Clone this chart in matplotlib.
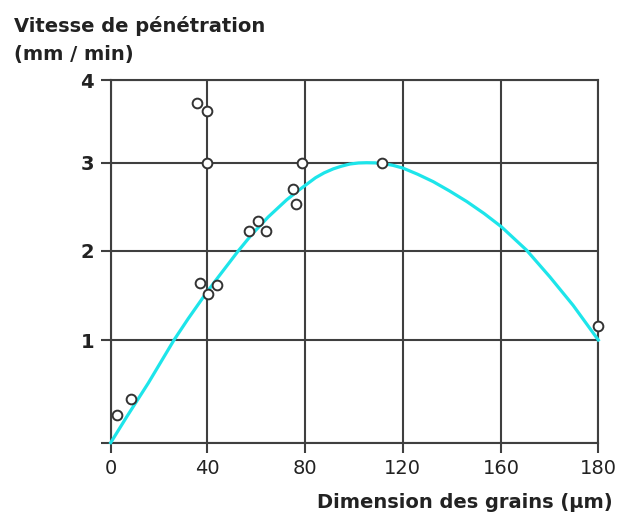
import numpy as np
import matplotlib
matplotlib.use("Agg")
import matplotlib.pyplot as plt

# measured points (grain size in µm, penetration speed in mm/min)
grain_size = [2.7, 8.4, 37.1, 40.3, 44.0, 57.4, 61.0, 64.1, 75.1, 76.7, 79.0, 40.0, 35.7, 40.0, 111.4, 180.0]
speed = [0.27, 0.43, 1.64, 1.52, 1.62, 2.23, 2.34, 2.23, 2.70, 2.53, 3.0, 3.0, 3.73, 3.63, 3.0, 1.16]

# fitted curve
curve_x = [0, 6.6, 15.6, 26.3, 32.2, 39.2, 43.3, 52.8, 58.3, 65.1, 72.7, 78.2, 84.5, 88.0,
           91.7, 95.0, 98.5, 102.0, 105.3, 108.7, 112.1, 116.0, 120, 126.0, 132.4, 139.0,
           146.0, 153.0, 160, 165.2, 170.0, 174.8, 180]
curve_y = [0, 0.25, 0.58, 1.0, 1.24, 1.51, 1.66, 2.0, 2.185, 2.385, 2.58, 2.70, 2.83, 2.885,
           2.93, 2.96, 2.985, 2.997, 3.0, 2.998, 2.99, 2.97, 2.94, 2.87, 2.785, 2.68,
           2.56, 2.425, 2.275, 2.01, 1.71, 1.39, 1.0]

x_ticks = [0, 40, 80, 120, 160, 180]
y_ticks = [0, 1, 2, 3, 4]
y_labels = ["", "1", "2", "3", "4"]

# the original graph is not drawn to a linear scale: ticks are (nearly) evenly spaced
x_pos = [0, 96.3, 193.8, 292.0, 390.6, 487.6]
y_pos = [0, 102.7, 191.7, 280.0, 362.4]


def piecewise(src, dst):
    src = np.asarray(src, float)
    dst = np.asarray(dst, float)

    def f(v):
        v = np.asarray(v, float)
        out = np.interp(v, src, dst)
        lo_slope = (dst[1] - dst[0]) / (src[1] - src[0])
        hi_slope = (dst[-1] - dst[-2]) / (src[-1] - src[-2])
        out = np.where(v < src[0], dst[0] + (v - src[0]) * lo_slope, out)
        out = np.where(v > src[-1], dst[-1] + (v - src[-1]) * hi_slope, out)
        return out
    return f


plt.rcParams['font.family'] = ['DejaVu Sans']
grid_col = '#3f3f3f'

fig = plt.figure(figsize=(6.17, 5.16), dpi=100)
ax = fig.add_axes([110.7 / 617, 1 - 442.7 / 516, 487.6 / 617, 362.4 / 516])

ax.set_xscale('function', functions=(piecewise(x_ticks, x_pos), piecewise(x_pos, x_ticks)))
ax.set_yscale('function', functions=(piecewise(y_ticks, y_pos), piecewise(y_pos, y_ticks)))
ax.set_xlim(0, 180)
ax.set_ylim(0, 4)

ax.set_xticks(x_ticks)
ax.set_xticklabels([str(t) for t in x_ticks], fontsize=14)
ax.set_yticks(y_ticks)
ax.set_yticklabels(y_labels, fontsize=14, fontweight='bold')
ax.xaxis.set_minor_locator(matplotlib.ticker.NullLocator())
ax.yaxis.set_minor_locator(matplotlib.ticker.NullLocator())
ax.tick_params(direction='out', length=7, width=1.5, color=grid_col, pad=5, labelcolor='#222222')

ax.grid(True, color=grid_col, linewidth=1.5, zorder=1)
ax.set_axisbelow(True)
for s in ax.spines.values():
    s.set_color(grid_col)
    s.set_linewidth(1.5)

ax.plot(curve_x, curve_y, color='#1de5ea', linewidth=2.3, zorder=3, clip_on=False,
        solid_joinstyle='round')
ax.plot(grain_size, speed, linestyle='none', marker='o', markersize=7,
        markerfacecolor='white', markeredgecolor='#333333', markeredgewidth=1.4,
        zorder=4, clip_on=False)

fig.text(14 / 617, 1 - 32.3 / 516, "Vitesse de pénétration", fontsize=14,
         fontweight='bold', color='#222222', ha='left', va='baseline')
fig.text(14 / 617, 1 - 60 / 516, "(mm / min)", fontsize=14,
         fontweight='bold', color='#222222', ha='left', va='baseline')
fig.text(613 / 617, 1 - 508 / 516, "Dimension des grains (µm)", fontsize=14,
         fontweight='bold', color='#222222', ha='right', va='baseline')

fig.savefig("out.png", dpi=100)
